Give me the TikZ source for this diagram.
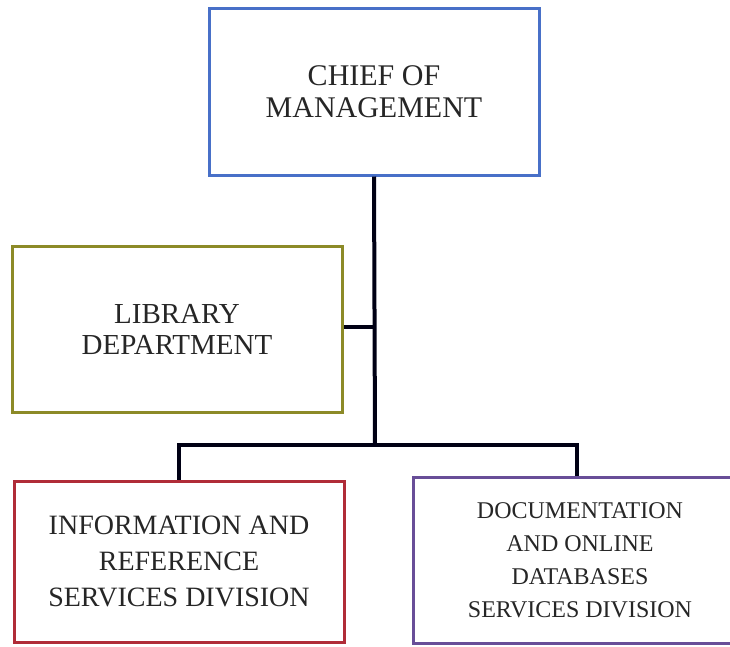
\documentclass[tikz,border=0pt]{standalone}
\usepackage{fontspec}
\setmainfont{Liberation Serif}
\definecolor{chiefblue}{RGB}{72,112,200}
\definecolor{libolive}{RGB}{140,138,40}
\definecolor{infored}{RGB}{176,44,56}
\definecolor{docpurple}{RGB}{104,78,152}
\begin{document}
\begin{tikzpicture}[x=1pt,y=-1pt,
  orgbox/.style={draw, rectangle, line width=3pt, inner sep=0pt, align=center, text=black!85},
  link/.style={line width=4pt, draw=black!92!blue}]
\useasboundingbox (0,0) rectangle (730,646);

% departments
\node[orgbox, draw=chiefblue, minimum width=330, minimum height=167,
      font=\fontsize{30}{32}\selectfont] (chief) at (374,91.5) {CHIEF OF\\MANAGEMENT};
\node[orgbox, draw=libolive, minimum width=330, minimum height=166,
      font=\fontsize{29}{31}\selectfont] (library) at (177,329) {LIBRARY\\DEPARTMENT};
\node[orgbox, draw=infored, minimum width=330, minimum height=161,
      font=\fontsize{28}{36}\selectfont] (info) at (179,561.5) {INFORMATION AND\\REFERENCE\\SERVICES DIVISION};
\node[orgbox, draw=docpurple, minimum width=334, minimum height=166,
      font=\fontsize{24}{33}\selectfont] (docs) at (580,560) {DOCUMENTATION\\AND ONLINE\\DATABASES\\SERVICES DIVISION};

% reporting lines
\coordinate (hub) at (375,445);
\coordinate (tap) at (375,327);
\draw[link] (chief.south) -- (hub);
\draw[link] (library.east |- tap) -- (tap);
\draw[link] (info.north) |- (hub) -| ([xshift=-3]docs.north);
\end{tikzpicture}
\end{document}
